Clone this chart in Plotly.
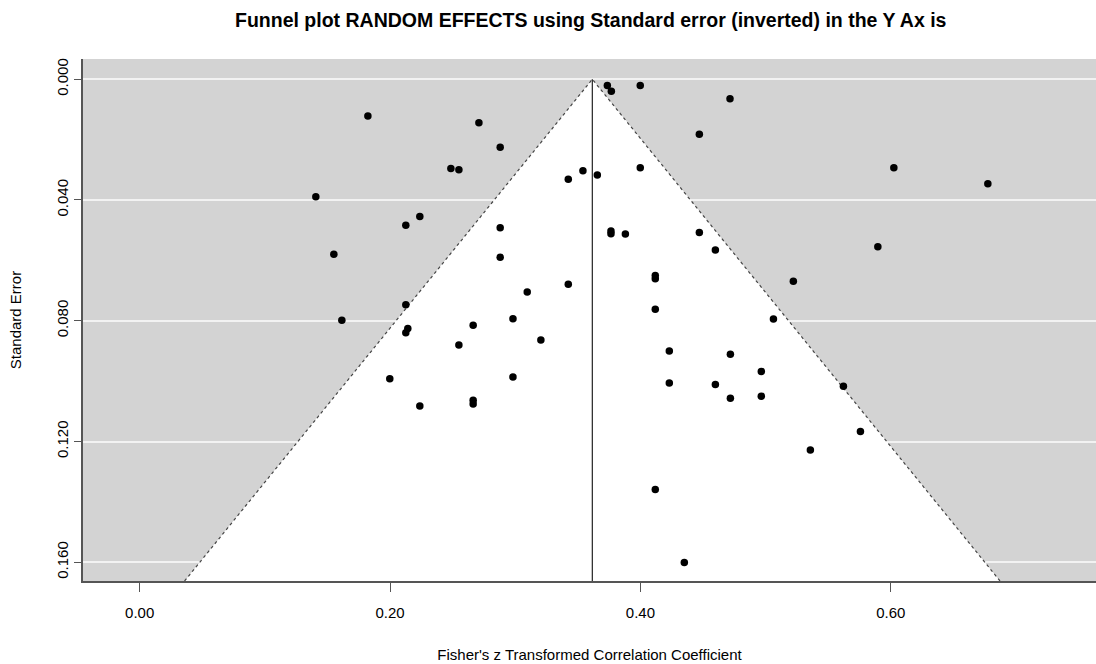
import plotly.graph_objects as go

# Fisher's z effect sizes and their standard errors
effect_z = [0.1823, 0.1407, 0.2710, 0.2880, 0.2486, 0.2550, 0.2238, 0.2126, 0.2880,
            0.3424, 0.3541, 0.3656, 0.3736, 0.3768, 0.3999, 0.3999, 0.3765, 0.3765,
            0.3880, 0.4716, 0.4471, 0.6025, 0.6776, 0.4471, 0.4599, 0.5897,
            0.1551, 0.1615, 0.2880, 0.3096, 0.3424, 0.2126, 0.2142, 0.2126, 0.2664,
            0.2982, 0.2550, 0.3205, 0.1998, 0.2982, 0.2238, 0.2664, 0.2664,
            0.4119, 0.4119, 0.4119, 0.4231, 0.4231,
            0.5222, 0.5063, 0.4719, 0.4966, 0.4599, 0.4719, 0.4966, 0.5622, 0.5758,
            0.5358, 0.4351, 0.4119]
std_err = [0.0122, 0.0389, 0.0144, 0.0225, 0.0296, 0.0300, 0.0455, 0.0484, 0.0492,
           0.0331, 0.0303, 0.0317, 0.0021, 0.0040, 0.0021, 0.0293, 0.0503, 0.0512,
           0.0513, 0.0065, 0.0182, 0.0293, 0.0346, 0.0508, 0.0566, 0.0555,
           0.0580, 0.0798, 0.0590, 0.0705, 0.0679, 0.0747, 0.0826, 0.0840, 0.0815,
           0.0793, 0.0880, 0.0864, 0.0992, 0.0986, 0.1082, 0.1063, 0.1076,
           0.0650, 0.0661, 0.0762, 0.0900, 0.1006,
           0.0669, 0.0794, 0.0911, 0.0968, 0.1011, 0.1057, 0.1050, 0.1017, 0.1167,
           0.1228, 0.1601, 0.1359]

pooled_estimate = 0.3616
z_crit = 1.96
x_range = [-0.0453, 0.764]
y_range = [0.1662, -0.0067]
x_ticks = [0.0, 0.2, 0.4, 0.6]
x_tick_labels = ["0.00", "0.20", "0.40", "0.60"]
y_ticks = [0.0, 0.04, 0.08, 0.12, 0.16]
y_tick_labels = ["0.000", "0.040", "0.080", "0.120", "0.160"]

se_max = y_range[0]
funnel_x = [pooled_estimate - z_crit * se_max, pooled_estimate, pooled_estimate + z_crit * se_max]
funnel_y = [se_max, 0.0, se_max]

FONT = "Liberation Sans Narrow, Arial Narrow, Liberation Sans, Arial, sans-serif"

fig = go.Figure()
# white funnel region
fig.add_trace(go.Scatter(x=funnel_x + [funnel_x[0]], y=funnel_y + [funnel_y[0]],
                         mode="lines", fill="toself", fillcolor="white",
                         line=dict(width=0), hoverinfo="skip", showlegend=False))
# dotted funnel edges
fig.add_trace(go.Scatter(x=funnel_x, y=funnel_y, mode="lines",
                         line=dict(color="#444444", width=1.2, dash="dot"),
                         hoverinfo="skip", showlegend=False))
# center line
fig.add_trace(go.Scatter(x=[pooled_estimate, pooled_estimate], y=[0.0, se_max], mode="lines",
                         line=dict(color="#222222", width=1.2),
                         hoverinfo="skip", showlegend=False))
# studies
fig.add_trace(go.Scatter(x=effect_z, y=std_err, mode="markers",
                         marker=dict(color="black", size=7.5),
                         showlegend=False))

fig.update_layout(
    width=1096, height=664,
    margin=dict(l=83, r=0, t=59, b=83),
    paper_bgcolor="white",
    plot_bgcolor="#D3D3D3",
    title=dict(text="<b>Funnel plot RANDOM EFFECTS using Standard error (inverted) in the Y Ax is</b>",
               x=0.539, xanchor="center", y=0.969, yanchor="middle",
               font=dict(family=FONT, size=19.5, color="black")),
    font=dict(family=FONT, color="black"),
)
fig.update_xaxes(range=x_range, tickvals=x_ticks, ticktext=x_tick_labels,
                 showgrid=False, zeroline=False,
                 showline=True, linecolor="#555555", linewidth=1.5,
                 ticks="outside", ticklen=9, tickcolor="#555555",
                 ticklabelstandoff=8,
                 tickfont=dict(size=15),
                 title=dict(text="Fisher's z Transformed Correlation Coefficient",
                            font=dict(size=15), standoff=30))
fig.update_yaxes(range=y_range, tickvals=y_ticks, ticktext=y_tick_labels,
                 showgrid=True, gridcolor="#F2F2F2", gridwidth=1.5, zeroline=False,
                 showline=True, linecolor="#555555", linewidth=1.5,
                 ticks="outside", ticklen=7, tickcolor="#555555",
                 tickangle=-90, tickfont=dict(size=15),
                 title=dict(text="Standard Error", font=dict(size=15), standoff=29))

fig.write_html("out.html")
